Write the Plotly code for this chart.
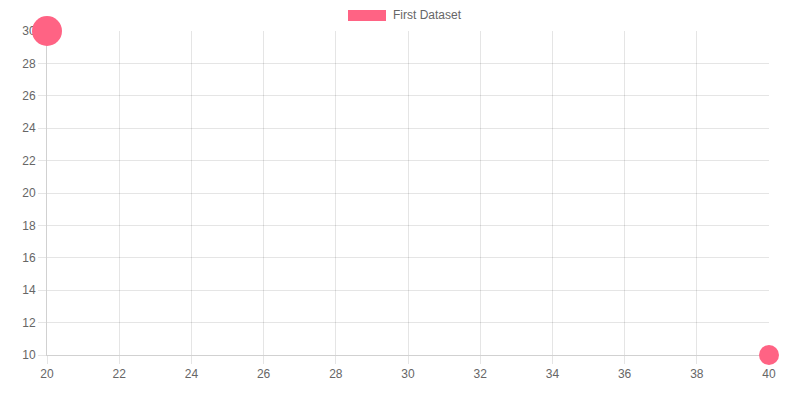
import plotly.graph_objects as go

# bubble data (x, y, radius in px)
x_vals = [20, 40]
y_vals = [30, 10]
radii = [15, 10]
dataset_label = "First Dataset"
color = "rgb(255, 99, 132)"
grid = "rgba(0,0,0,0.1)"

fig = go.Figure()
fig.add_trace(go.Scatter(
    x=x_vals, y=y_vals, mode="markers", name=dataset_label,
    marker=dict(size=[r * 2 for r in radii], sizemode="diameter",
                color=color, opacity=1, line=dict(width=0)),
    cliponaxis=False, showlegend=False,
))

axis_style = dict(
    showgrid=True, gridcolor=grid, gridwidth=1,
    ticks="outside", ticklen=8, tickcolor=grid,
    showline=True, linecolor="rgba(0,0,0,0.18)", linewidth=1,
    zeroline=False, dtick=2, layer="below traces",
    tickfont=dict(family="Liberation Sans, Arial, sans-serif", size=12, color="#666"),
    mirror=False,
)

fig.update_xaxes(range=[20, 40], **axis_style)
fig.update_yaxes(range=[10, 30], **axis_style)

# chart.js style legend: box + label
fig.add_shape(type="rect", xref="paper", yref="paper",
              x0=(348 - 47) / 722, x1=(386 - 47) / 722,
              y0=(355 - 21) / 324, y1=(355 - 10) / 324,
              fillcolor=color, line=dict(width=0))
fig.add_annotation(text=dataset_label, xref="paper", yref="paper",
                   x=(391 - 47) / 722, y=(355 - 15.5) / 324,
                   xanchor="left", yanchor="middle", showarrow=False,
                   font=dict(family="Liberation Sans, Arial, sans-serif", size=12, color="#666"))

# page body has an 8px margin, so the figure is shrunk to fit
fig.update_layout(
    width=792, height=392,
    margin=dict(l=39, r=31, t=23, b=45),
    plot_bgcolor="white", paper_bgcolor="white",
    showlegend=False,
)

fig.write_html("out.html")
